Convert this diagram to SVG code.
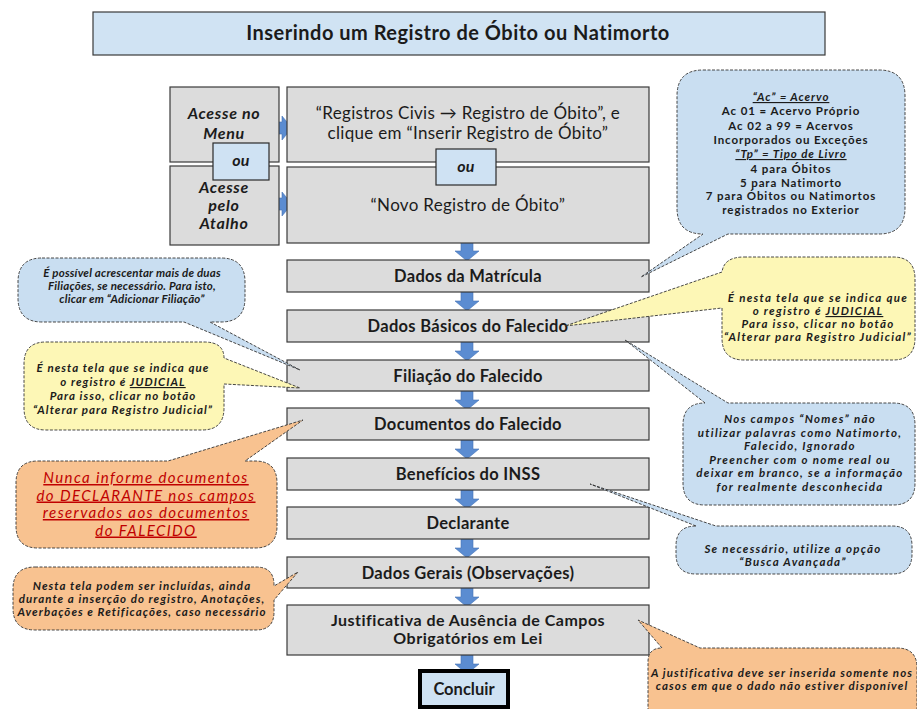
<svg xmlns="http://www.w3.org/2000/svg" xmlns:xlink="http://www.w3.org/1999/xlink" width="917" height="709" viewBox="0 0 917 709">
  <style>
    text { font-family: Lato, "Liberation Sans", sans-serif; fill: #1b1b1b; }
    .box { fill: #dcdcdc; stroke: #3a3a3a; stroke-width: 1.2; }
    .ttl { fill: #d0e3f3; stroke: #3a3a3a; stroke-width: 1.2; }
    .ou { fill: #cfe2f3; stroke: #2a2a2a; stroke-width: 1.2; }
    .arr { fill: #5b8cd1; stroke: #4673b5; stroke-width: 0.6; }
    .cb { fill: #c9def1; }
    .cy { fill: #fdf7b6; }
    .co { fill: #f8c290; }
    .call { stroke: #333; stroke-width: 0.9; stroke-dasharray: 3 1.5; }
    .bt { font-size: 16.5px; font-weight: bold; text-anchor: middle; letter-spacing: 0.3px; }
    .rt { font-size: 17px; text-anchor: middle; letter-spacing: 0.3px; }
    .it { font-size: 16px; font-weight: bold; font-style: italic; text-anchor: middle; letter-spacing: 0.7px; }
    .ct { font-size: 11.5px; font-weight: bold; font-style: italic; text-anchor: middle; letter-spacing: 1.2px; }
    .cu { font-size: 11.5px; font-weight: bold; text-anchor: middle; letter-spacing: 0.9px; }
    .ul { text-decoration: underline; }
    .red { font-size: 15px; font-style: italic; fill: #c00000; text-anchor: middle; text-decoration: underline; letter-spacing: 1.4px; }
  </style>
  <defs>
    <path id="dn" d="M-6 0 H6 V9 H12 L0 19 L-12 9 H-6 Z"/>
    <path id="rt" d="M0 -6 H12 V-12 L22 0 L12 12 V6 H0 Z"/>
  </defs>

  <rect width="917" height="709" fill="#ffffff"/>

  <!-- heading -->
  <g id="title">
    <rect class="ttl" x="93" y="12" width="732" height="43"/>
    <text x="458" y="40" style="font-size:20px;font-weight:bold;text-anchor:middle;letter-spacing:0.5px">Inserindo um Registro de Óbito ou Natimorto</text>
  </g>

  <!-- flow arrows -->
  <g id="connectors" class="arr">
    <use xlink:href="#rt" href="#rt" transform="translate(270,128)"/>
    <use xlink:href="#rt" href="#rt" transform="translate(270,204)"/>
    <use xlink:href="#dn" href="#dn" transform="translate(467,242)"/>
    <use xlink:href="#dn" href="#dn" transform="translate(467,292)"/>
    <use xlink:href="#dn" href="#dn" transform="translate(467,342)"/>
    <use xlink:href="#dn" href="#dn" transform="translate(467,391)"/>
    <use xlink:href="#dn" href="#dn" transform="translate(467,440)"/>
    <use xlink:href="#dn" href="#dn" transform="translate(467,490)"/>
    <use xlink:href="#dn" href="#dn" transform="translate(467,539)"/>
    <use xlink:href="#dn" href="#dn" transform="translate(467,588)"/>
    <use xlink:href="#dn" href="#dn" transform="translate(467,655)"/>
  </g>

  <!-- entry points -->
  <g id="menu">
    <rect class="box" x="170" y="87" width="109" height="75"/>
    <text class="it" x="224" y="119">Acesse no</text>
    <text class="it" x="224" y="139">Menu</text>
  </g>
  <g id="atalho">
    <rect class="box" x="170" y="166" width="109" height="79"/>
    <text class="it" x="224" y="193">Acesse</text>
    <text class="it" x="224" y="211">pelo</text>
    <text class="it" x="224" y="229">Atalho</text>
  </g>
  <g id="ou-left">
    <rect class="ou" x="213" y="143" width="56" height="37"/>
    <text class="it" x="241" y="166" style="letter-spacing:0.3px">ou</text>
  </g>
  <g id="registros-civis">
    <rect class="box" x="287" y="87" width="362" height="75"/>
    <text class="rt" x="468" y="119">“Registros Civis → Registro de Óbito”, e</text>
    <text class="rt" x="468" y="139">clique em “Inserir Registro de Óbito”</text>
  </g>
  <g id="novo-registro">
    <rect class="box" x="287" y="167" width="362" height="76"/>
    <text class="rt" x="468" y="211">“Novo Registro de Óbito”</text>
  </g>
  <g id="ou-mid">
    <rect class="ou" x="436" y="149" width="60" height="36"/>
    <text class="it" x="466" y="172" style="letter-spacing:0.3px">ou</text>
  </g>

  <!-- screens -->
  <g id="dados-matricula">
    <rect class="box" x="287" y="260" width="362" height="32"/>
    <text class="bt" x="468" y="282">Dados da Matrícula</text>
  </g>
  <g id="dados-basicos">
    <rect class="box" x="287" y="310" width="362" height="32"/>
    <text class="bt" x="468" y="332">Dados Básicos do Falecido</text>
  </g>
  <g id="filiacao">
    <rect class="box" x="287" y="360" width="362" height="31"/>
    <text class="bt" x="468" y="382">Filiação do Falecido</text>
  </g>
  <g id="documentos">
    <rect class="box" x="287" y="408" width="362" height="32"/>
    <text class="bt" x="468" y="430">Documentos do Falecido</text>
  </g>
  <g id="beneficios">
    <rect class="box" x="287" y="458" width="362" height="32"/>
    <text class="bt" x="468" y="480">Benefícios do INSS</text>
  </g>
  <g id="declarante">
    <rect class="box" x="287" y="507" width="362" height="32"/>
    <text class="bt" x="468" y="529">Declarante</text>
  </g>
  <g id="dados-gerais">
    <rect class="box" x="287" y="557" width="362" height="31"/>
    <text class="bt" x="468" y="579">Dados Gerais (Observações)</text>
  </g>
  <g id="justificativa">
    <rect class="box" x="287" y="605" width="362" height="50"/>
    <text class="bt" x="468" y="626" style="font-size:16px;letter-spacing:0.5px">Justificativa de Ausência de Campos</text>
    <text class="bt" x="468" y="644" style="font-size:16px;letter-spacing:0.5px">Obrigatórios em Lei</text>
  </g>
  <g id="concluir">
    <rect x="420" y="671" width="88" height="36" fill="#cfe2f3" stroke="#000" stroke-width="4"/>
    <text class="bt" x="464" y="695" style="letter-spacing:0">Concluir</text>
  </g>

  <!-- notes -->
  <g id="nota-acervo">
    <path class="cb call" d="M703 70 H879 Q905 70 905 96 V208 Q905 234 879 234 H728 L641 277 L703 234 Q677 234 677 208 V96 Q677 70 703 70 Z"/>
    <text class="ct ul" x="791" y="101" style="letter-spacing:0.9px">“Ac” = Acervo</text>
    <text class="cu" x="791" y="115">Ac 01 = Acervo Próprio</text>
    <text class="cu" x="791" y="130">Ac 02 a 99 = Acervos</text>
    <text class="cu" x="791" y="144">Incorporados ou Exceções</text>
    <text class="ct ul" x="791" y="158" style="letter-spacing:0.9px">“Tp” = Tipo de Livro</text>
    <text class="cu" x="791" y="173">4 para Óbitos</text>
    <text class="cu" x="791" y="187">5 para Natimorto</text>
    <text class="cu" x="791" y="200">7 para Óbitos ou Natimortos</text>
    <text class="cu" x="791" y="214">registrados no Exterior</text>
  </g>
  <g id="nota-judicial-direita">
    <path class="cy call" d="M744 257 H893 Q915 257 915 279 V338 Q915 360 893 360 H744 Q722 360 722 338 V308 L565 326 L722 272 Q724 257 744 257 Z"/>
    <text class="ct" x="818" y="302" style="letter-spacing:1.3px">É nesta tela que se indica que</text>
    <text class="ct" x="818" y="315" style="letter-spacing:1.3px">o registro é <tspan class="ul">JUDICIAL</tspan></text>
    <text class="ct" x="818" y="328" style="letter-spacing:1.3px">Para isso, clicar no botão</text>
    <text class="ct" x="818" y="341" style="letter-spacing:1.3px">“Alterar para Registro Judicial”</text>
  </g>
  <g id="nota-filiacoes">
    <path class="cb call" d="M42 258 H221 Q245 258 245 282 V298 Q245 322 221 322 H210 L300 370 L184 322 H42 Q18 322 18 298 V282 Q18 258 42 258 Z"/>
    <text class="ct" x="132" y="277" style="letter-spacing:0.2px">É possível acrescentar mais de duas</text>
    <text class="ct" x="132" y="290" style="letter-spacing:0.2px">Filiações, se necessário. Para isto,</text>
    <text class="ct" x="132" y="303" style="letter-spacing:0.2px">clicar em “Adicionar Filiação”</text>
  </g>
  <g id="nota-judicial-esquerda">
    <path class="cy call" d="M46 342 H204 Q224 342 224 358 L300 388 L224 384 V408 Q224 430 202 430 H46 Q24 430 24 408 V364 Q24 342 46 342 Z"/>
    <text class="ct" x="123" y="372" style="letter-spacing:1.05px">É nesta tela que se indica que</text>
    <text class="ct" x="123" y="386" style="letter-spacing:1.05px">o registro é <tspan class="ul">JUDICIAL</tspan></text>
    <text class="ct" x="123" y="400" style="letter-spacing:1.05px">Para isso, clicar no botão</text>
    <text class="ct" x="123" y="414" style="letter-spacing:1.05px">“Alterar para Registro Judicial”</text>
  </g>
  <g id="nota-nomes">
    <path class="cb call" d="M705 403 L625 340 L728 403 H893 Q915 403 915 425 V483 Q915 505 893 505 H705 Q683 505 683 483 V425 Q683 403 705 403 Z"/>
    <text class="ct" x="800" y="423" style="letter-spacing:1.3px">Nos campos “Nomes” não</text>
    <text class="ct" x="800" y="436.5" style="letter-spacing:1.3px">utilizar palavras como Natimorto,</text>
    <text class="ct" x="800" y="450" style="letter-spacing:1.3px">Falecido, Ignorado</text>
    <text class="ct" x="800" y="463.5" style="letter-spacing:1.3px">Preencher com o nome real ou</text>
    <text class="ct" x="800" y="477" style="letter-spacing:1.3px">deixar em branco, se a informação</text>
    <text class="ct" x="800" y="490.5" style="letter-spacing:1.3px">for realmente desconhecida</text>
  </g>
  <g id="nota-documentos">
    <path class="co call" d="M38 461 H168 L303 420 L245 461 H255 Q277 461 277 483 V526 Q277 548 255 548 H38 Q16 548 16 526 V483 Q16 461 38 461 Z"/>
    <text class="red" x="146" y="483">Nunca informe documentos</text>
    <text class="red" x="146" y="500.5">do DECLARANTE nos campos</text>
    <text class="red" x="146" y="518">reservados aos documentos</text>
    <text class="red" x="146" y="535.5">do FALECIDO</text>
  </g>
  <g id="nota-busca">
    <path class="cb call" d="M696 526 L590 484 L716 526 H892 Q912 526 912 546 V554 Q912 574 892 574 H696 Q676 574 676 554 V546 Q676 526 696 526 Z"/>
    <text class="ct" x="793" y="553" style="letter-spacing:1.25px">Se necessário, utilize a opção</text>
    <text class="ct" x="793" y="566" style="letter-spacing:1.25px">“Busca Avançada”</text>
  </g>
  <g id="nota-observacoes">
    <path class="co call" d="M35 567 H256 Q274 567 274 585 V586 L298 572 L274 600 V612 Q274 630 256 630 H35 Q13 630 13 608 V589 Q13 567 35 567 Z"/>
    <text class="ct" x="142" y="590" style="letter-spacing:1.05px">Nesta tela podem ser incluídas, ainda</text>
    <text class="ct" x="142" y="603" style="letter-spacing:1.05px">durante a inserção do registro, Anotações,</text>
    <text class="ct" x="142" y="616" style="letter-spacing:1.05px">Averbações e Retificações, caso necessário</text>
  </g>
  <g id="nota-justificativa">
    <path class="co call" d="M662 648 L638 620 L700 648 H897 Q917 648 917 668 V712 H648 V662 Q648 648 662 648 Z"/>
    <text class="ct" x="782" y="677" style="letter-spacing:1.1px">A justificativa deve ser inserida somente nos</text>
    <text class="ct" x="782" y="690" style="letter-spacing:1.1px">casos em que o dado não estiver disponível</text>
  </g>
</svg>
